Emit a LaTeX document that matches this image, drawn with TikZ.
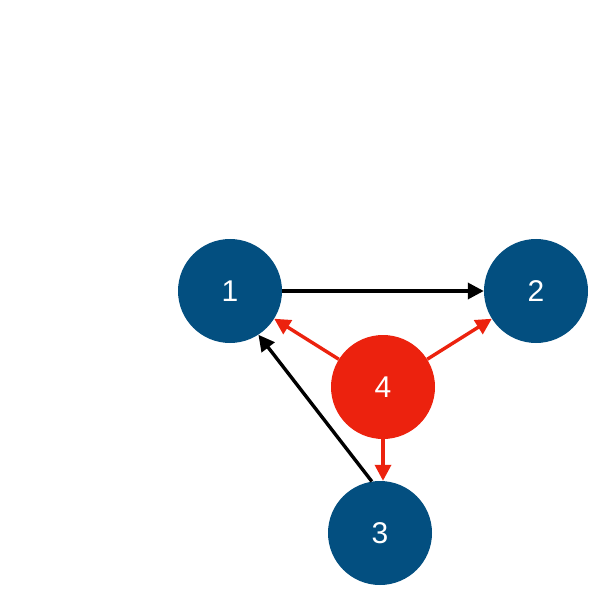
\documentclass[tikz,border=0pt]{standalone}
\usepackage{fontspec}
\setsansfont{Liberation Sans}
\usetikzlibrary{arrows.meta, positioning}
\definecolor{nodeblue}{RGB}{3,79,128}
\definecolor{nodered}{RGB}{236,34,14}

\begin{document}
\begin{tikzpicture}[x=1pt, y=-1pt,
  vertex/.style={circle, fill=nodeblue, minimum size=104pt, inner sep=0pt, text=white, font=\sffamily\fontsize{30}{30}\selectfont},
  hub/.style={vertex, fill=nodered},
  edge/.style={line width=3.4pt, -{Triangle[length=16pt, width=16pt]}}]
  \useasboundingbox (0,0) rectangle (598,601);

  % Graph nodes
  \node[vertex] (n1) at (230,291) {1};
  \node[vertex] (n2) at (536,291) {2};
  \node[vertex] (n3) at (380,533) {3};
  \node[hub] (n4) at (383,387) {4};

  % Black edges
  \draw[edge] (n1) -- (n2);
  \draw[edge] (n3.99) -- (n1.-57);

  % Red edges out of the hub
  \foreach \dest in {n1, n2} {
    \draw[edge, nodered] (n4) -- (\dest);
  }
  \draw[edge, nodered] (n4) -- (n4 |- n3.north);
\end{tikzpicture}
\end{document}
